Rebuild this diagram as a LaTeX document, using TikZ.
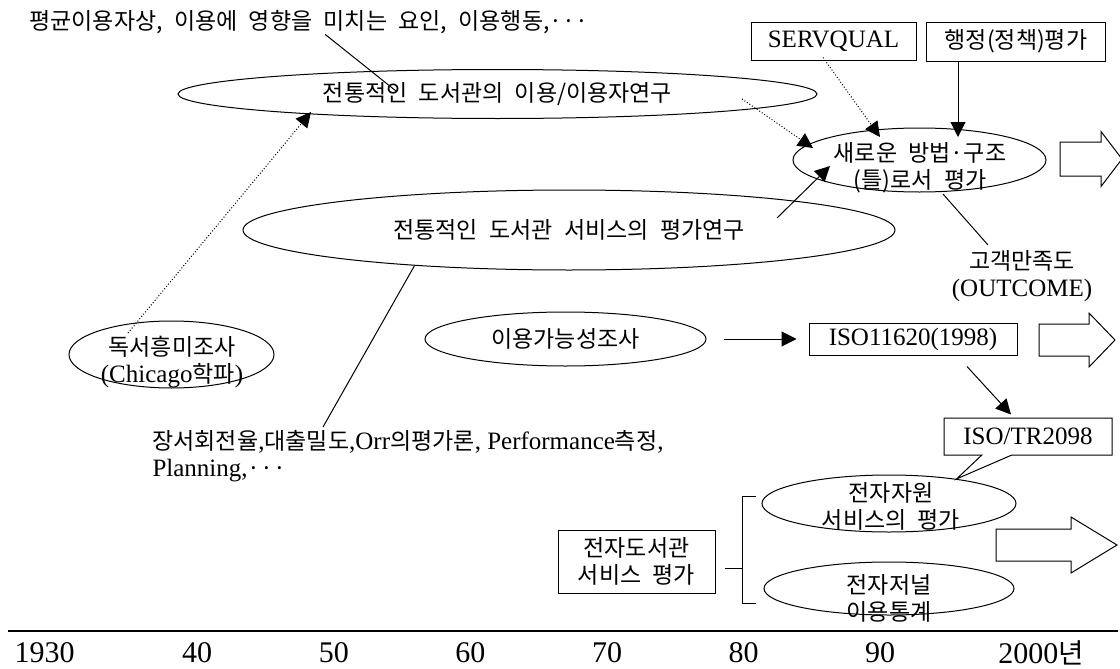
\documentclass[tikz,border=0pt]{standalone}
\usepackage{fontspec}
\setmainfont{Liberation Serif}
\newfontfamily\kr{Noto Sans CJK KR}[Scale=0.92, WordSpace=2.2]
\newcommand\ko[1]{{\kr #1}}
\usetikzlibrary{shapes.geometric,shapes.callouts,arrows.meta}

\begin{document}
\begin{tikzpicture}[x=0.5pt,y=-0.5pt,line width=0.5pt,
  every node/.style={font=\fontsize{12.5pt}{13.5pt}\selectfont, inner sep=0pt},
  ell/.style={draw, ellipse},
  rbox/.style={draw, rectangle},
  txt/.style={align=center},
  arr/.style={-{Triangle[length=7.5pt,width=7.5pt]}},
  dotln/.style={dash pattern=on 0.5pt off 1pt},
  yrlbl/.style={font=\fontsize{15pt}{16pt}\selectfont}]

  \useasboundingbox (0,0) rectangle (1120,669);

  \node[anchor=west] (avg) at (29,22)
    {\ko{평균이용자상, 이용에 영향을 미치는 요인, 이용행동,···}};

  \node[ell, minimum width=319.5pt, minimum height=24.5pt] (utl) at (497.5,94)
    {\ko{전통적인 도서관의 이용/이용자연구}};
  \node[ell, minimum width=326pt, minimum height=40pt] (svc) at (569,230)
    {\ko{전통적인 도서관 서비스의 평가연구}};

  \node[ell, minimum width=126.5pt, minimum height=32pt] (newm) at (919.5,160) {};
  \node[txt] (newm-t) at (920,167.5) {\ko{새로운 방법·구조}\\\ko{(틀)로서 평가}};

  \node[rbox, minimum width=82.5pt, minimum height=19pt] (serv) at (833.5,41) {SERVQUAL};
  \node[rbox, minimum width=89.5pt, minimum height=19.5pt] (adm) at (1016,41.5)
    {\ko{행정(정책)평가}};

  \node[txt] (outc) at (1022,276) {\ko{고객만족도}\\(OUTCOME)};

  \node[ell, minimum width=102.5pt, minimum height=33.5pt] (dok) at (171.5,354.5) {};
  \node[txt] (dok-t) at (172,362) {\ko{독서흥미조사}\\(Chicago\ko{학파})};

  \node[ell, minimum width=140.5pt, minimum height=27pt] (avail) at (565.5,339)
    {\ko{이용가능성조사}};
  \node[rbox, minimum width=104pt, minimum height=16pt] (iso) at (913,339) {ISO11620(1998)};

  \node[txt, anchor=west, align=left] (meas) at (152,456.5)
    {\ko{장서회전율},\ko{대출밀도},Orr\ko{의평가론}, Performance\ko{측정},\\Planning,\ko{···}};

  \node[ell, minimum width=127pt, minimum height=28.5pt] (eres) at (889,503.5) {};
  \node[txt] (eres-t) at (891,506.5) {\ko{전자자원}\\\ko{서비스의 평가}};
  \node[ell, minimum width=125pt, minimum height=26.5pt] (ejnl) at (889,588.5) {};
  \node[txt] (ejnl-t) at (889,598.5) {\ko{전자저널}\\\ko{이용통계}};

  \node[rbox, rectangle callout, callout absolute pointer={(eres.20)},
    callout pointer width=15pt, minimum width=84pt, minimum height=18.5pt]
    (isotr) at (1028,436.5) {ISO/TR2098};

  \node[rbox, txt, minimum width=78.5pt, minimum height=31.5pt] (edc) at (636.5,561.5)
    {\ko{전자도서관}\\\ko{서비스 평가}};

  \draw ([xshift=148pt]avg.south west) -- ([shift={(-50.75pt,1.5pt)}]utl.center);
  \draw[arr, dotln] ([shift={(-21.75pt,10.75pt)}]dok.center) --
    ([shift={(-93.25pt,-9pt)}]utl.center);
  \draw[arr, dotln] ([shift={(122.25pt,-2.5pt)}]utl.center) --
    ([shift={(-53.25pt,6pt)}]newm.center);
  \draw[arr, dotln] ([xshift=-5.25pt,yshift=1.5pt]serv.south) --
    ([shift={(-19.75pt,11.5pt)}]newm.center);
  \draw[arr] ([xshift=-29pt]adm.south) -- ([shift={(19.25pt,11.5pt)}]newm.center);
  \draw[arr] ([shift={(104pt,6pt)}]svc.center) -- ([shift={(-44.75pt,-3pt)}]newm.center);
  \draw ([shift={(11.75pt,-17pt)}]newm.center) -- ([shift={(-17pt,15.5pt)}]outc.center);
  \draw ([shift={(85.5pt,14.75pt)}]meas.west) -- (svc.193);
  \draw[arr, shorten <=8.5pt, shorten >=6pt] (avail) -- (iso);
  \draw[arr] ([xshift=27pt,yshift=-5.5pt]iso.south) --
    ([xshift=-8.5pt,yshift=1.5pt]isotr.north);

  \coordinate (brt) at (756,496);
  \coordinate (brb) at (756,603);
  \draw (brt) -- ++(-14,0) coordinate (brx) -- (brx |- brb) -- (brb);
  \coordinate (stub) at ([xshift=4.5pt,yshift=-3.25pt]edc.east);
  \draw (stub) -- (stub -| brx);

  \foreach \xa/\xb/\xc/\yc/\hs/\hh in
    {1060/1101/1122/159/17/27.5, 1039/1089/1115/340/16/27, 996/1071/1117/545/16/28}
    \draw (\xa,\yc-\hs) -- (\xb,\yc-\hs) -- (\xb,\yc-\hh) -- (\xc,\yc) --
      (\xb,\yc+\hh) -- (\xb,\yc+\hs) -- (\xa,\yc+\hs) -- cycle;

  \coordinate (tl0) at (8,631);
  \coordinate (tl1) at (1118,631);
  \draw[line width=0.8pt] (tl0) -- (tl1);
  \node[yrlbl, anchor=west] (y30) at (14,653) {1930};
  \foreach \yr [count=\i] in {40,50,60,70,80,90}
    \node[yrlbl] (y\yr) at (60.6+136.6*\i,653) {\yr};
  \node[yrlbl] (y00) at (1041,653) {2000\ko{년}};

\end{tikzpicture}
\end{document}
